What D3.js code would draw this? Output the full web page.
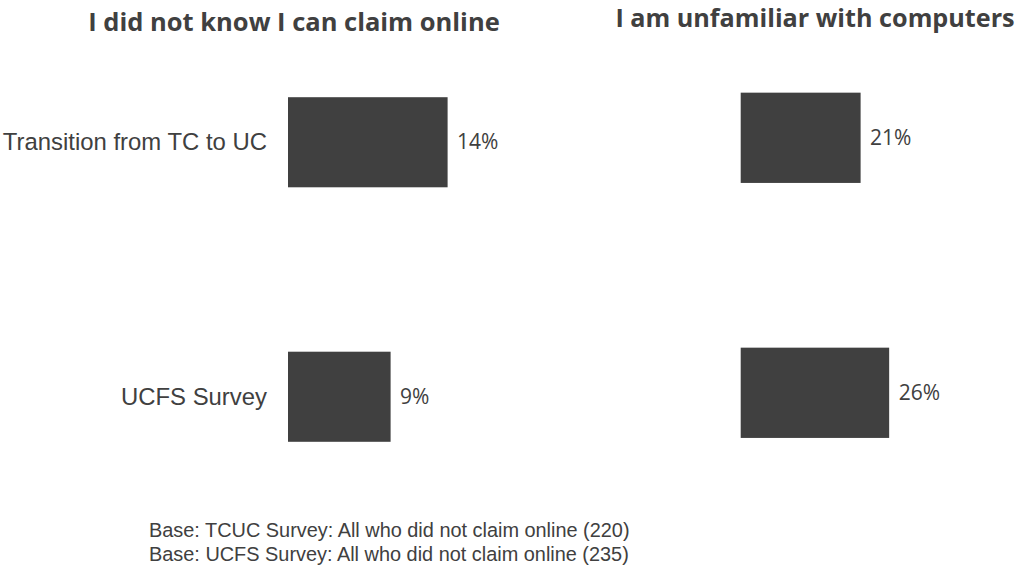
<!DOCTYPE html>
<html>
<head>
<meta charset="utf-8">
<script src="https://cdn.jsdelivr.net/npm/d3@7"></script>
<style>
  html, body { margin: 0; padding: 0; background: #fff; }
  svg { display: block; }
</style>
</head>
<body>
<svg id="chart" width="1018" height="571"></svg>
<script>
// Survey groups (rows) shared by both panels
const categories = ["Transition from TC to UC", "UCFS Survey"];

// Panel titles
const panelTitles = ["I did not know I can claim online", "I am unfamiliar with computers"];

// Share of respondents giving each reason, per survey
const notKnowValues = [0.14, 0.09];
const unfamiliarValues = [0.21, 0.26];

// Axis maxima used by each panel
const panelMax = [0.2, 0.4];

// Footnote lines
const baseNotes = [
  "Base: TCUC Survey: All who did not claim online (220)",
  "Base: UCFS Survey: All who did not claim online (235)"
];

const ink = "#404040";
const svg = d3.select("#chart");
const pct = d3.format(".0%");

const panels = [
  { title: panelTitles[0], values: notKnowValues, max: panelMax[0],
    x0: 288, width: 228, y0: 15, y1: 524, titleX: 294, titleY: 31, titleSize: 25.5, showCats: true },
  { title: panelTitles[1], values: unfamiliarValues, max: panelMax[1],
    x0: 740.7, width: 228.4, y0: 10.3, y1: 520.3, titleX: 815, titleY: 27, titleSize: 25.2, showCats: false }
];

panels.forEach(p => {
  const x = d3.scaleLinear().domain([0, p.max]).range([p.x0, p.x0 + p.width]);
  const y = d3.scaleBand().domain(categories).range([p.y0, p.y1])
    .paddingInner(0.646).paddingOuter(0.323);

  const g = svg.append("g");

  g.append("text")
    .attr("x", p.titleX).attr("y", p.titleY)
    .attr("text-anchor", "middle")
    .attr("font-family", "'Open Sans', sans-serif")
    .attr("font-weight", 700)
    .attr("font-size", p.titleSize)
    .attr("fill", ink)
    .text(p.title);

  const rows = categories.map((c, i) => ({ cat: c, value: p.values[i] }));

  g.selectAll("rect").data(rows).join("rect")
    .attr("x", x(0))
    .attr("y", d => y(d.cat))
    .attr("width", d => x(d.value) - x(0))
    .attr("height", y.bandwidth())
    .attr("fill", ink);

  g.selectAll("text.value").data(rows).join("text")
    .attr("class", "value")
    .attr("x", d => x(d.value) + 9.5)
    .attr("y", d => y(d.cat) + y.bandwidth() / 2)
    .attr("dy", "0.33em")
    .attr("font-family", "'Open Sans', sans-serif")
    .attr("font-size", 21)
    .attr("fill", ink)
    .text(d => pct(d.value));

  if (p.showCats) {
    g.selectAll("text.cat").data(rows).join("text")
      .attr("class", "cat")
      .attr("x", x(0) - 21)
      .attr("y", d => y(d.cat) + y.bandwidth() / 2)
      .attr("dy", "0.33em")
      .attr("text-anchor", "end")
      .attr("font-family", "'Liberation Sans', Arial, sans-serif")
      .attr("font-size", 23.9)
      .attr("fill", ink)
      .text(d => d.cat);
  }
});

svg.append("g").selectAll("text").data(baseNotes).join("text")
  .attr("x", 149)
  .attr("y", (d, i) => 537 + i * 24)
  .attr("font-family", "'Liberation Sans', Arial, sans-serif")
  .attr("font-size", 19.9)
  .attr("fill", ink)
  .text(d => d);
</script>
</body>
</html>
